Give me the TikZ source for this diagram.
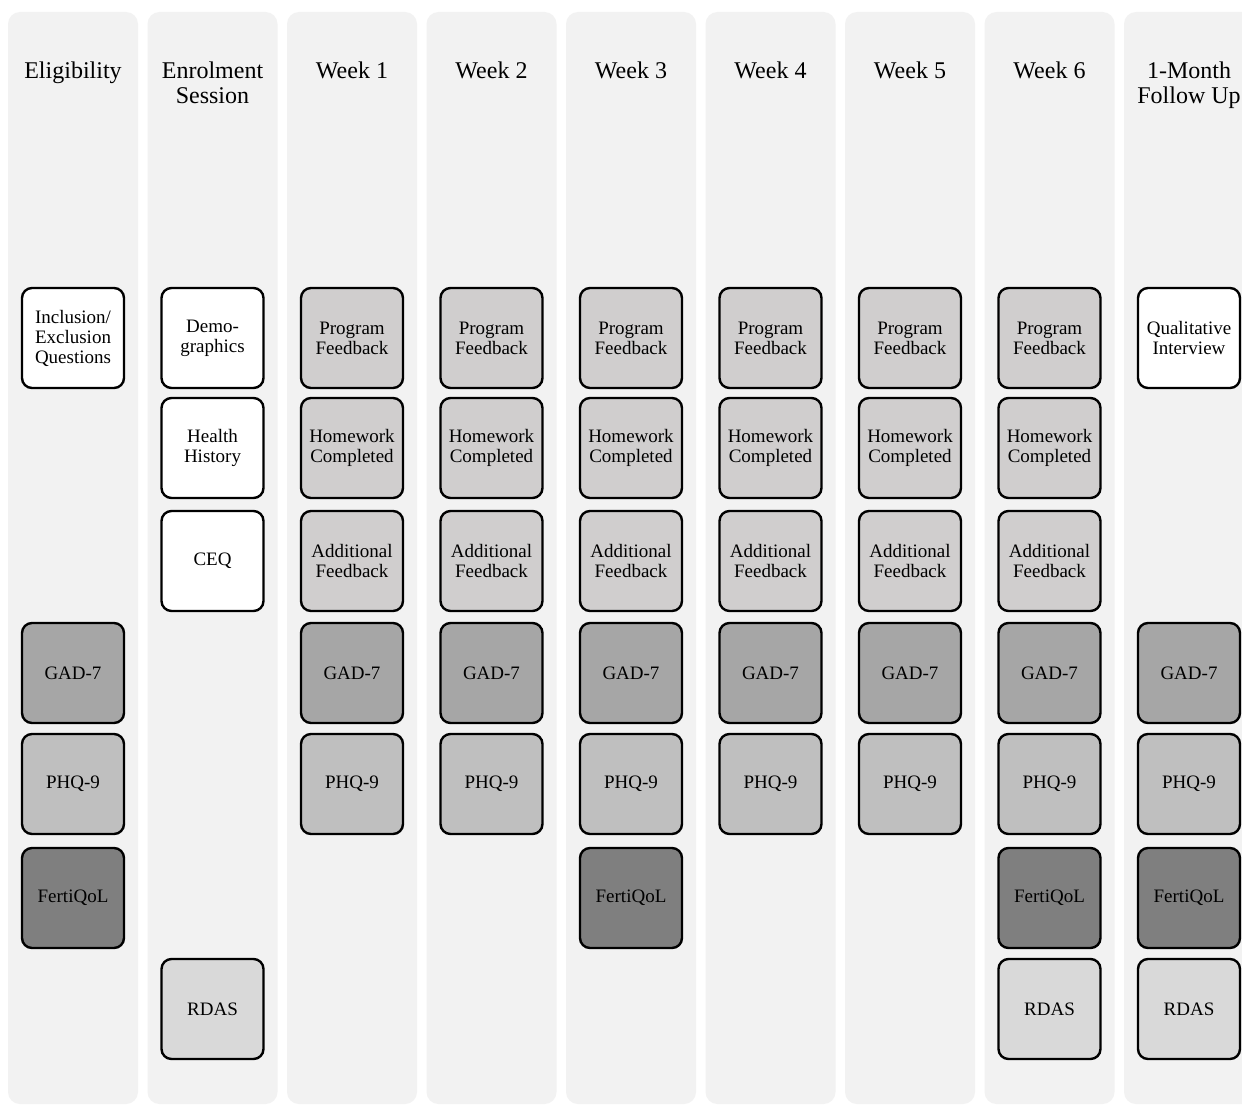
\documentclass[tikz,border=0pt]{standalone}
\usepackage{fontspec}
\setmainfont{Liberation Serif}
\definecolor{colbg}{HTML}{F2F2F2}
\definecolor{fbk}{HTML}{D0CECE}
\definecolor{gad}{HTML}{A6A6A6}
\definecolor{phq}{HTML}{BFBFBF}
\definecolor{fq}{HTML}{7F7F7F}
\definecolor{rdas}{HTML}{D9D9D9}
\begin{document}
\begin{tikzpicture}[x=1pt,y=-1pt,
  colbox/.style={fill=colbg, rounded corners=12pt},
  title/.style={anchor=north, inner sep=0pt, align=center, font=\fontsize{24}{25}\selectfont},
  box/.style={draw=black, line width=2.4pt, rounded corners=10pt, minimum width=102pt, minimum height=100pt, inner sep=0pt, align=center, font=\fontsize{19}{20}\selectfont},
  wbox/.style={box, fill=white},
  fbox/.style={box, fill=fbk},
  gbox/.style={box, fill=gad},
  pbox/.style={box, fill=phq},
  qbox/.style={box, fill=fq},
  rbox/.style={box, fill=rdas}]
\useasboundingbox (0,0) rectangle (1242,1105);
\clip (0,0) rectangle (1242,1105);
\fill[white] (0,0) rectangle (1242,1105);
% columns
\foreach \k in {0,...,8} {
  \fill[colbox] ({8+139.5*\k},12) rectangle ({138+139.5*\k},1104);
}
% titles
\node[title] (t1) at (73,62) {Eligibility};
\node[title] (t2) at (212.5,62) {Enrolment\\Session};
\node[title] (t3) at (352,62) {Week 1};
\node[title] (t4) at (491.5,62) {Week 2};
\node[title] (t5) at (631,62) {Week 3};
\node[title] (t6) at (770.5,62) {Week 4};
\node[title] (t7) at (910,62) {Week 5};
\node[title] (t8) at (1049.5,62) {Week 6};
\node[title] (t9) at (1189,62) {1-Month\\Follow Up};
% column 1
\node[wbox] (c1r1) at (73,338) {Inclusion/\\Exclusion\\Questions};
\node[gbox] (c1r4) at (73,673) {GAD-7};
\node[pbox] (c1r5) at (73,784) {PHQ-9};
\node[qbox] (c1r6) at (73,898) {FertiQoL};
% column 2
\node[wbox] (c2r1) at (212.5,338) {Demo-\\graphics};
\node[wbox] (c2r2) at (212.5,448) {Health\\History};
\node[wbox] (c2r3) at (212.5,561) {CEQ};
\node[rbox] (c2r7) at (212.5,1009) {RDAS};
% weeks 1-6
\foreach \k/\x in {3/352,4/491.5,5/631,6/770.5,7/910,8/1049.5} {
  \node[fbox] (c\k r1) at (\x,338) {Program\\Feedback};
  \node[fbox] (c\k r2) at (\x,448) {Homework\\Completed};
  \node[fbox] (c\k r3) at (\x,561) {Additional\\Feedback};
  \node[gbox] (c\k r4) at (\x,673) {GAD-7};
  \node[pbox] (c\k r5) at (\x,784) {PHQ-9};
}
\node[qbox] (c5r6) at (631,898) {FertiQoL};
\node[qbox] (c8r6) at (1049.5,898) {FertiQoL};
\node[rbox] (c8r7) at (1049.5,1009) {RDAS};
% column 9
\node[wbox] (c9r1) at (1189,338) {Qualitative\\Interview};
\node[gbox] (c9r4) at (1189,673) {GAD-7};
\node[pbox] (c9r5) at (1189,784) {PHQ-9};
\node[qbox] (c9r6) at (1189,898) {FertiQoL};
\node[rbox] (c9r7) at (1189,1009) {RDAS};
\end{tikzpicture}
\end{document}
